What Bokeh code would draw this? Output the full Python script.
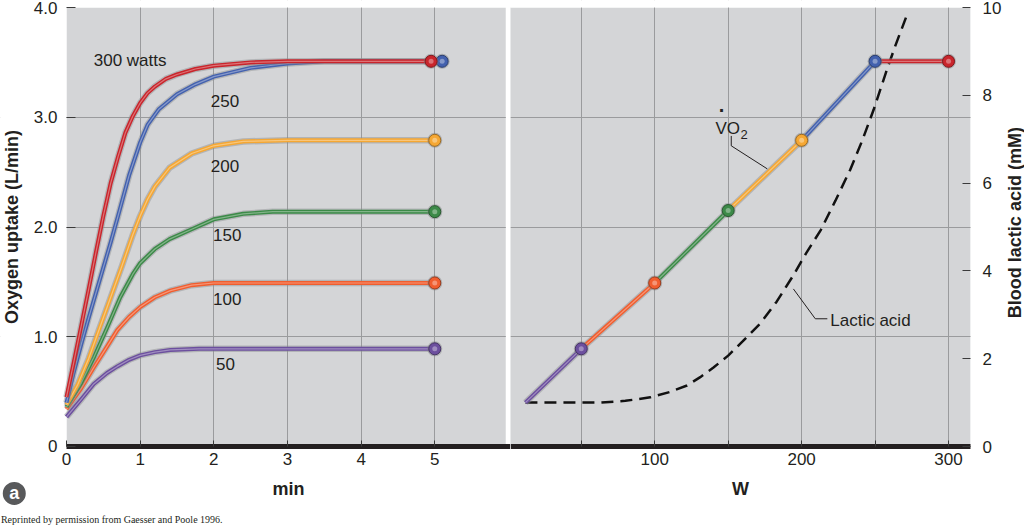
import math
from bokeh.plotting import figure
from bokeh.layouts import row
from bokeh.models import Range1d, LinearAxis, FixedTicker, Label, BoxAnnotation
from bokeh.embed import file_html
from bokeh.resources import INLINE

FONT = "Liberation Sans"
TXT = "#231f20"
BG = "#d4d5d7"
GRID = "#9a9b9d"

# ---------------- data ----------------
watts = [300, 250, 200, 150, 100, 50]
colors = {300: "#c9252c", 250: "#4361ae", 200: "#f5a733",
          150: "#3c8a48", 100: "#f15d2e", 50: "#6c4f9e"}

t_300 = [0, 0.1, 0.2, 0.3, 0.4, 0.5, 0.6, 0.7, 0.8, 0.9, 1.0, 1.1, 1.2, 1.35, 1.5, 1.75, 2.0, 2.5, 3.0, 4.95]
v_300 = [0.45, 0.77, 1.10, 1.43, 1.77, 2.10, 2.40, 2.64, 2.86, 3.01, 3.13, 3.22, 3.28, 3.35, 3.39, 3.44, 3.47, 3.50, 3.51, 3.51]
t_250 = [0, 0.1, 0.2, 0.3, 0.4, 0.5, 0.6, 0.7, 0.85, 1.0, 1.1, 1.25, 1.5, 1.75, 2.0, 2.5, 3.0, 3.5, 5.1]
v_250 = [0.40, 0.68, 0.93, 1.17, 1.40, 1.63, 1.86, 2.10, 2.47, 2.77, 2.93, 3.07, 3.21, 3.30, 3.37, 3.45, 3.49, 3.51, 3.51]
t_200 = [0, 0.15, 0.3, 0.45, 0.6, 0.75, 0.9, 1.0, 1.1, 1.2, 1.4, 1.7, 2.0, 2.4, 3.0, 5.0]
v_200 = [0.38, 0.56, 0.80, 1.08, 1.36, 1.64, 1.93, 2.10, 2.25, 2.37, 2.54, 2.67, 2.74, 2.78, 2.79, 2.79]
t_150 = [0, 0.2, 0.37, 0.55, 0.73, 0.9, 1.0, 1.2, 1.4, 1.7, 2.0, 2.4, 2.8, 5.0]
v_150 = [0.36, 0.58, 0.81, 1.08, 1.36, 1.57, 1.67, 1.80, 1.89, 1.98, 2.07, 2.12, 2.14, 2.14]
t_100 = [0, 0.2, 0.37, 0.55, 0.69, 0.85, 1.0, 1.2, 1.41, 1.7, 2.0, 2.5, 5.0]
v_100 = [0.34, 0.53, 0.72, 0.91, 1.06, 1.18, 1.27, 1.36, 1.42, 1.47, 1.49, 1.49, 1.49]
t_50 = [0, 0.2, 0.37, 0.55, 0.69, 0.85, 1.0, 1.2, 1.41, 1.8, 5.0]
v_50 = [0.27, 0.43, 0.57, 0.67, 0.73, 0.79, 0.83, 0.86, 0.88, 0.89, 0.89]

curve_t = {300: t_300, 250: t_250, 200: t_200, 150: t_150, 100: t_100, 50: t_50}
curve_v = {300: v_300, 250: v_250, 200: v_200, 150: v_150, 100: v_100, 50: v_50}

curve_labels = ["300 watts", "250", "200", "150", "100", "50"]
curve_label_t = [0.37, 1.96, 1.96, 1.99, 1.99, 2.03]
curve_label_v = [3.52, 3.15, 2.56, 1.93, 1.34, 0.75]

# right panel: VO2 vs work rate
w_pts = [12, 50, 100, 150, 200, 250, 300]
vo2_pts = [0.40, 0.89, 1.49, 2.15, 2.79, 3.51, 3.51]
seg_watts = [50, 100, 150, 200, 250, 300]

# blood lactic acid (mM) vs work rate
lactic_w = [12, 40, 63, 80, 97, 110, 122, 131, 140, 150, 160, 172, 183, 194, 203, 213, 223, 233, 241, 249, 258, 264, 271]
lactic_mm = [1.0, 1.0, 1.0, 1.04, 1.12, 1.24, 1.39, 1.58, 1.8, 2.07, 2.4, 2.81, 3.3, 3.88, 4.4, 4.93, 5.6, 6.3, 6.95, 7.67, 8.58, 9.15, 9.77]

left_xticks = [0, 1, 2, 3, 4, 5]
left_yticks = [0, 1, 2, 3, 4]
left_ylabels = ["0", "1.0", "2.0", "3.0", "4.0"]
right_xticks = [50, 100, 150, 200, 250, 300]
right_xlabels = ["", "100", "", "200", "", "300"]
lactic_ticks = [0, 2, 4, 6, 8, 10]

# callouts
vo2_leader_w = [152.1, 152.1, 176.6]
vo2_leader_v = [2.83, 2.74, 2.53]
lac_leader_w = [194.4, 209.3, 217.5]
lac_leader_mm = [3.59, 2.91, 2.91]

# panel extents (data units)
T_VIEW = (-0.896, 6.028)
T_GAP = 5.965          # start of the white gap between panels
V_TOP = 4.0
V_VIEW = (-0.729, 4.064)
W_START, W_END = 1.84, 315.0
W_VIEW_END = 351.7
L_VIEW = (-1.822, 10.16)
L_TOP = 10


def lighten(c, f=0.45):
    r, g, b = int(c[1:3], 16), int(c[3:5], 16), int(c[5:7], 16)
    r, g, b = [int(v + (255 - v) * f) for v in (r, g, b)]
    return "#%02x%02x%02x" % (r, g, b)


def darken(c, f=0.35):
    r, g, b = int(c[1:3], 16), int(c[3:5], 16), int(c[5:7], 16)
    r, g, b = [int(v * (1 - f)) for v in (r, g, b)]
    return "#%02x%02x%02x" % (r, g, b)


def tube(p, x, y, color):
    p.line(x, y, line_color="#8a8b8d", line_width=6.5, line_alpha=0.45, line_join="round")
    p.line(x, y, line_color=color, line_width=4, line_join="round")
    p.line(x, y, line_color=lighten(color), line_width=1.2, line_alpha=0.8, line_join="round")


def sphere(p, x, y, color):
    p.scatter(x, y, size=15, fill_color="#7d7e80", fill_alpha=0.45, line_color=None)
    p.scatter(x, y, size=12, fill_color=color, line_color=darken(color), line_width=1)
    p.scatter(x, y, size=5, fill_color=lighten(color, 0.5), fill_alpha=0.7, line_color=None)


def style_axis(ax, tick_in):
    ax.major_tick_in = tick_in
    ax.major_tick_out = 0
    ax.minor_tick_line_color = None
    ax.major_tick_line_color = "#3a3a3a"
    ax.major_label_text_font = FONT
    ax.major_label_text_font_size = "17px"
    ax.major_label_text_color = TXT
    ax.axis_label_text_font = FONT
    ax.axis_label_text_font_size = "18px"
    ax.axis_label_text_font_style = "bold"
    ax.axis_label_text_color = TXT


def txt(p, x, y, s, size="17px", align="left", baseline="middle", y_range_name="default", **kw):
    p.add_layout(Label(x=x, y=y, text=s, text_font=FONT, text_font_size=size,
                       text_color=TXT, text_align=align, text_baseline=baseline,
                       y_range_name=y_range_name, **kw))


def box(p, left, right, bottom, top, color, level):
    p.add_layout(BoxAnnotation(left=left, right=right, bottom=bottom, top=top,
                               fill_color=color, fill_alpha=1.0, line_color=None,
                               level=level))


# ---------------- left panel (frame = whole canvas) ----------------
p1 = figure(width=510, height=526, x_range=Range1d(*T_VIEW), y_range=Range1d(*V_VIEW),
            output_backend="svg", toolbar_location=None, title=None, min_border=0)
p1.background_fill_color = "white"
p1.border_fill_color = "white"
p1.outline_line_color = None

xa = p1.xaxis[0]
ya = p1.yaxis[0]
xa.fixed_location = 0
ya.fixed_location = 0
xa.bounds = (0, T_VIEW[1])
ya.bounds = (0, V_TOP)
xa.ticker = FixedTicker(ticks=left_xticks)
ya.ticker = FixedTicker(ticks=left_yticks)
ya.major_label_overrides = {k: s for k, s in zip(left_yticks, left_ylabels)}
style_axis(xa, 6)
style_axis(ya, 9)
xa.axis_line_width = 5
xa.axis_line_color = TXT
xa.major_label_standoff = 7
xa.axis_label = "min"
xa.axis_label_standoff = 10
ya.axis_line_color = None
ya.major_label_standoff = 9
ya.axis_label = "Oxygen uptake (L/min)"
ya.axis_label_standoff = 9

p1.xgrid.ticker = FixedTicker(ticks=left_xticks[1:])
p1.ygrid.ticker = FixedTicker(ticks=left_yticks[1:-1])
p1.grid.grid_line_color = GRID
p1.grid.grid_line_width = 1

lo_t, hi_t = T_VIEW[0] - 1, T_VIEW[1] + 1
lo_v, hi_v = V_VIEW[0] - 1, V_VIEW[1] + 1
box(p1, 0, T_GAP, 0, V_TOP, BG, "image")             # grey panel
box(p1, lo_t, 0, lo_v, hi_v, "white", "underlay")     # left margin
box(p1, lo_t, hi_t, lo_v, 0, "white", "underlay")     # bottom margin
box(p1, lo_t, hi_t, V_TOP, hi_v, "white", "underlay") # top margin
box(p1, T_GAP, hi_t, lo_v, hi_v, "white", "underlay") # gap between panels

for w in watts[::-1]:
    tube(p1, curve_t[w], curve_v[w], colors[w])
for w in watts[::-1]:
    sphere(p1, [curve_t[w][-1]], [curve_v[w][-1]], colors[w])

for s, x, y in zip(curve_labels, curve_label_t, curve_label_v):
    txt(p1, x, y, s)

# panel badge and credit line
p1.scatter([-0.709], [-0.428], size=23, fill_color="#58595b", line_color=None)
p1.add_layout(Label(x=-0.709, y=-0.428, text="a", text_font=FONT, text_font_size="18px",
                    text_font_style="bold", text_color="white", text_align="center",
                    text_baseline="middle"))
p1.add_layout(Label(x=-0.89, y=-0.665, text="Reprinted by permission from Gaesser and Poole 1996.",
                    text_font="Liberation Serif", text_font_size="10px", text_color=TXT,
                    text_align="left", text_baseline="alphabetic"))

# ---------------- right panel (frame = whole canvas) ----------------
p2 = figure(width=514, height=526, x_range=Range1d(W_START, W_VIEW_END), y_range=Range1d(*V_VIEW),
            output_backend="svg", toolbar_location=None, title=None, y_axis_location=None,
            min_border=0)
p2.extra_y_ranges = {"lactic": Range1d(*L_VIEW)}
p2.background_fill_color = "white"
p2.border_fill_color = "white"
p2.outline_line_color = None

xb = p2.xaxis[0]
xb.fixed_location = 0
xb.bounds = (W_START, W_END)
xb.ticker = FixedTicker(ticks=right_xticks)
xb.major_label_overrides = {k: s for k, s in zip(right_xticks, right_xlabels)}
style_axis(xb, 6)
xb.axis_line_width = 5
xb.axis_line_color = TXT
xb.major_label_standoff = 7
xb.axis_label = "W"
xb.axis_label_standoff = 10

ax_r = LinearAxis(y_range_name="lactic", ticker=FixedTicker(ticks=lactic_ticks),
                  fixed_location=W_END, bounds=(0, L_TOP))
style_axis(ax_r, 8)
ax_r.axis_line_color = None
ax_r.major_label_standoff = 12
p2.add_layout(ax_r, "right")

p2.xgrid.ticker = FixedTicker(ticks=right_xticks)
p2.ygrid.ticker = FixedTicker(ticks=left_yticks[1:-1])
p2.grid.grid_line_color = GRID
p2.grid.grid_line_width = 1

lo_w, hi_w = W_START - 20, W_VIEW_END + 20
box(p2, lo_w, W_END, 0, V_TOP, BG, "image")              # grey panel
box(p2, W_END, hi_w, lo_v, hi_v, "white", "underlay")     # right margin
box(p2, lo_w, hi_w, lo_v, 0, "white", "underlay")         # bottom margin
box(p2, lo_w, hi_w, V_TOP, hi_v, "white", "underlay")     # top margin

p2.line(lactic_w, lactic_mm, y_range_name="lactic", line_color="#111111",
        line_width=2.5, line_dash="12 7")

for i, w in enumerate(seg_watts):
    tube(p2, w_pts[i:i + 2], vo2_pts[i:i + 2], colors[w])
for i, w in enumerate(seg_watts):
    sphere(p2, [w_pts[i + 1]], [vo2_pts[i + 1]], colors[w])

p2.line(vo2_leader_w, vo2_leader_v, line_color=TXT, line_width=1)
p2.line(lac_leader_w, lac_leader_mm, y_range_name="lactic", line_color=TXT, line_width=1)

txt(p2, 141.3, 2.894, "VO", baseline="alphabetic")
txt(p2, 158.4, 2.84, "2", size="13px", baseline="alphabetic")
txt(p2, 145.9, 3.07, "\u00b7", size="20px", align="center", text_font_style="bold")
txt(p2, 219.5, 2.86, "Lactic acid", y_range_name="lactic")

# right-hand axis title, reading bottom to top
p2.add_layout(Label(x=344.9, y=5.1, y_range_name="lactic", text="Blood lactic acid (mM)",
                    angle=math.pi / 2, text_font=FONT, text_font_size="18px",
                    text_font_style="bold", text_color=TXT, text_align="center",
                    text_baseline="middle"))

layout = row(p1, p2)
open("out.html", "w").write(file_html(layout, INLINE))
